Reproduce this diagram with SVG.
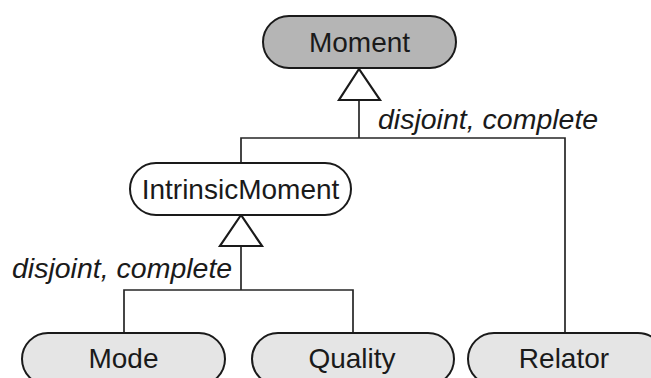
<svg xmlns="http://www.w3.org/2000/svg" width="651" height="378" viewBox="0 0 651 378">
  <style>
    .node { stroke: #1a1a1a; stroke-width: 2; }
    .label { font-family: "Liberation Sans", Arial, sans-serif; font-size: 28px; fill: #1a1a1a; text-anchor: middle; }
    .constraint { font-family: "Liberation Sans", Arial, sans-serif; font-size: 28.5px; font-style: italic; fill: #1a1a1a; }
    .edge { fill: none; stroke: #262626; stroke-width: 1.7; }
    .head { fill: #ffffff; stroke: #1a1a1a; stroke-width: 2.2; stroke-linejoin: miter; }
  </style>
  <rect width="651" height="378" fill="#ffffff"/>

  <g id="connectors">
    <!-- Moment generalization set -->
    <polyline class="edge" points="359,100 359,138"/>
    <polyline class="edge" points="241,163 241,138 565,138 565,333"/>
    <polygon class="head" points="359,69 339,100 380,100"/>
    <text class="constraint" x="378" y="129">disjoint, complete</text>
    <!-- IntrinsicMoment generalization set -->
    <polyline class="edge" points="241,246 241,290"/>
    <polyline class="edge" points="124,333 124,290 353,290 353,333"/>
    <polygon class="head" points="241,215 220,246 262,246"/>
    <text class="constraint" x="12" y="278">disjoint, complete</text>
  </g>

  <g id="moment">
    <rect class="node" x="263" y="16" width="193" height="52" rx="26" fill="#b5b5b5"/>
    <text class="label" x="359.5" y="52">Moment</text>
  </g>
  <g id="intrinsic-moment">
    <rect class="node" x="130" y="163" width="221" height="52" rx="26" fill="#ffffff"/>
    <text class="label" x="240.5" y="199">IntrinsicMoment</text>
  </g>
  <g id="mode">
    <rect class="node" x="22" y="333" width="203" height="52" rx="26" fill="#e5e5e5"/>
    <text class="label" x="123.5" y="368">Mode</text>
  </g>
  <g id="quality">
    <rect class="node" x="252" y="333" width="202" height="52" rx="26" fill="#e5e5e5"/>
    <text class="label" x="352" y="368">Quality</text>
  </g>
  <g id="relator">
    <rect class="node" x="468" y="333" width="196" height="52" rx="26" fill="#e5e5e5"/>
    <text class="label" x="564" y="368">Relator</text>
  </g>
</svg>
